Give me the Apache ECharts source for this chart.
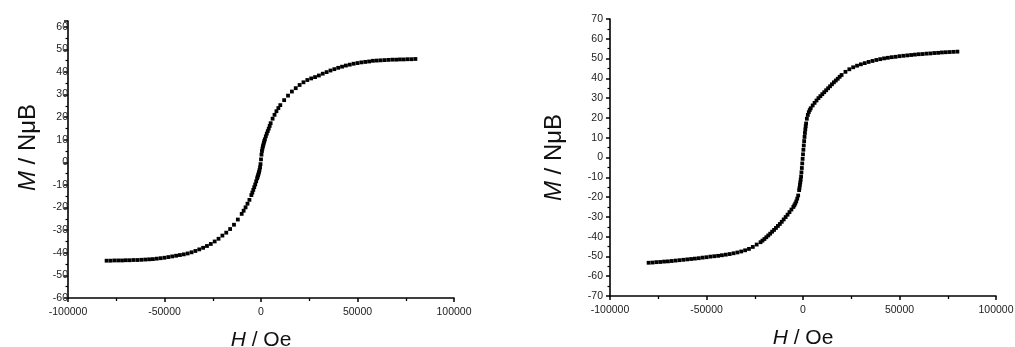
<!DOCTYPE html>
<html>
<head>
<meta charset="utf-8">
<script src="https://cdn.jsdelivr.net/npm/echarts@6/dist/echarts.min.js"></script>
<style>
  html, body { margin: 0; padding: 0; background: #fff; }
  #chart { width: 1015px; height: 347px; }
</style>
</head>
<body>
<div id="chart"></div>
<script>
// Magnetisation curves M(H) for two samples, field in Oe, moment in N·μB.

// Sample A (left panel)
const fieldA = [
  -80000, -78000, -76000, -74000, -72000, -70000, -68000, -66000, -64000, -62000,
  -60000, -58000, -56000, -54000, -52000, -50000, -48000, -46000, -44000, -42000,
  -40000, -38000, -36000, -34000, -32000, -30000, -28000, -26000, -24000, -22000,
  -20000, -18000, -16000, -14000, -12000,
  -10000, -9000, -8000, -7000, -6000,
  -5000, -4500, -4000, -3500, -3000, -2500,
  -2000, -1750, -1500, -1250, -1000, -750, -500, -250, 0, 250, 500, 750,
  1000, 1250, 1500, 1750, 2000,
  2500, 3000, 3500, 4000, 4500, 5000,
  6000, 7000, 8000, 9000, 10000,
  12000, 14000, 16000, 18000, 20000, 22000, 24000, 26000, 28000, 30000,
  32000, 34000, 36000, 38000, 40000, 42000, 44000, 46000, 48000, 50000,
  52000, 54000, 56000, 58000, 60000, 62000, 64000, 66000, 68000, 70000,
  72000, 74000, 76000, 78000, 80000
];
const momentA = [
  -43.5, -43.5, -43.4, -43.4, -43.4, -43.3, -43.3, -43.2, -43.2, -43.1,
  -43.0, -42.9, -42.8, -42.6, -42.4, -42.2, -41.9, -41.6, -41.3, -41.0,
  -40.7, -40.3, -39.8, -39.2, -38.5, -37.8, -37.0, -36.1, -35.0, -33.8,
  -32.4, -31.1, -29.5, -27.6, -25.3,
  -22.8, -21.4, -19.9, -18.3, -16.6,
  -14.5, -13.4, -12.2, -11.0, -9.8, -8.4,
  -7.1, -6.4, -5.7, -5.0, -4.2, -3.3, -2.2, -0.8, 1.3, 3.4, 5.0, 6.1,
  7.1, 7.9, 8.7, 9.5, 10.2,
  11.5, 12.7, 13.8, 14.9, 16.1, 17.3,
  19.3, 21.0, 22.6, 24.0, 25.3,
  27.5, 29.5, 31.3, 32.8, 34.2, 35.4, 36.4, 37.1, 37.7, 38.4,
  39.2, 39.9, 40.6, 41.2, 41.8, 42.3, 42.8, 43.2, 43.6, 43.9,
  44.2, 44.4, 44.6, 44.9, 45.0, 45.1, 45.2, 45.3, 45.4, 45.4,
  45.5, 45.5, 45.6, 45.6, 45.7
];

// Sample B (right panel)
const fieldB = [
  -80000, -78000, -76000, -74000, -72000, -70000, -68000, -66000, -64000, -62000,
  -60000, -58000, -56000, -54000, -52000, -50000, -48000, -46000, -44000, -42000,
  -40000, -38000, -36000, -34000, -32000, -30000, -28000, -26000, -24000, -22000,
  -21000, -20000, -19000, -18000, -17000, -16000, -15000, -14000, -13000, -12000,
  -11000, -10000, -9000, -8000, -7000, -6000,
  -5000, -4500, -4000, -3500, -3000, -2500,
  -2000, -1800, -1600, -1400, -1200, -1000, -800, -600, -400, -200,
  0, 200, 400, 600, 800, 1000, 1200, 1400, 1600,
  2000, 2500, 3000, 3500, 4000,
  5000, 6000, 7000, 8000, 9000, 10000, 11000, 12000, 13000, 14000,
  15000, 16000, 17000, 18000, 19000, 20000,
  22000, 24000, 26000, 28000, 30000, 32000, 34000, 36000, 38000, 40000,
  42000, 44000, 46000, 48000, 50000, 52000, 54000, 56000, 58000, 60000,
  62000, 64000, 66000, 68000, 70000, 72000, 74000, 76000, 78000, 80000
];
const momentB = [
  -53.2, -53.1, -52.9, -52.8, -52.6, -52.5, -52.3, -52.1, -51.9, -51.7,
  -51.5, -51.3, -51.1, -50.9, -50.6, -50.4, -50.1, -49.9, -49.7, -49.4,
  -49.1, -48.8, -48.4, -48.0, -47.5, -46.9, -46.2, -45.2, -44.0, -42.8,
  -42.0, -41.2, -40.3, -39.4, -38.5, -37.5, -36.6, -35.6, -34.6, -33.6,
  -32.5, -31.3, -30.1, -28.9, -27.6, -26.3,
  -25.0, -24.2, -23.3, -22.2, -20.8, -19.2,
  -16.5, -15.3, -13.8, -12.6, -11.2, -9.6, -7.5, -5.3, -3.0, -0.7,
  1.6, 3.9, 6.1, 8.3, 10.4, 12.4, 14.2, 15.8, 17.2,
  19.6, 21.5, 22.9, 24.0, 24.9,
  26.3, 27.6, 28.8, 30.0, 31.0, 32.0, 33.0, 34.0, 35.0, 36.0,
  37.0, 38.0, 38.9, 39.8, 40.8, 41.7,
  43.3, 44.6, 45.6, 46.4, 47.1, 47.7, 48.3, 48.8, 49.3, 49.7,
  50.1, 50.4, 50.7, 50.9, 51.2, 51.4, 51.6, 51.8, 52.0, 52.2,
  52.3, 52.5, 52.6, 52.8, 52.9, 53.1, 53.2, 53.3, 53.4, 53.5
];

// Axis ranges and tick steps (left M axis runs a little past its top label)
const fieldRange = { min: -100000, max: 100000, step: 50000 };
const momentRangeA = { min: -60, max: 62.5, step: 10 };
const momentRangeB = { min: -70, max: 70, step: 10 };

const fieldTitle = '{i|H} / Oe';
const momentTitle = '{i|M} / NμB';

const FONT = 'Liberation Sans, Arial, sans-serif';
const INK = '#000';

function pairs(xs, ys) {
  return xs.map((x, i) => [x, ys[i]]);
}

function titleStyle(size, padding) {
  return {
    fontSize: size,
    fontFamily: FONT,
    color: '#111',
    padding: padding || 0,
    rich: { i: { fontStyle: 'italic', fontSize: size, fontFamily: FONT, color: '#111' } }
  };
}

// plain tick numbers; only multiples of the step get a label
function tickText(step) {
  return v => (Math.abs(v % step) < 1e-9 ? String(v) : '');
}

function fieldAxis(gridIndex, nameGap) {
  return {
    type: 'value',
    gridIndex,
    min: fieldRange.min,
    max: fieldRange.max,
    interval: fieldRange.step,
    axisLine: { onZero: false, lineStyle: { color: INK, width: 1.6 } },
    axisTick: { show: true, inside: false, length: 4, lineStyle: { color: INK, width: 1.5 } },
    minorTick: { show: true, splitNumber: 2, length: 3, lineStyle: { color: INK, width: 1.3 } },
    splitLine: { show: false },
    axisLabel: { color: '#222', fontSize: 10.5, fontFamily: FONT, margin: 9, formatter: tickText(fieldRange.step) },
    name: fieldTitle,
    nameLocation: 'middle',
    nameGap,
    nameTextStyle: titleStyle(21)
  };
}

function momentAxis(gridIndex, range, labelMargin, nameGap, namePad) {
  return {
    type: 'value',
    gridIndex,
    min: range.min,
    max: range.max,
    interval: range.step,
    axisLine: { onZero: false, lineStyle: { color: INK, width: 1.6 } },
    axisTick: { show: true, inside: false, length: 4, lineStyle: { color: INK, width: 1.5 } },
    minorTick: { show: true, splitNumber: 2, length: 2.5, lineStyle: { color: INK, width: 1.2 } },
    splitLine: { show: false },
    axisLabel: { color: '#222', fontSize: 10.5, fontFamily: FONT, margin: labelMargin, formatter: tickText(range.step) },
    name: momentTitle,
    nameLocation: 'middle',
    nameRotate: 90,
    nameGap,
    nameTextStyle: titleStyle(24, namePad)
  };
}

const markerSeries = (xi, data) => ({
  type: 'scatter',
  xAxisIndex: xi,
  yAxisIndex: xi,
  data,
  symbol: 'rect',
  symbolSize: 3.8,
  itemStyle: { color: INK, opacity: 1 },
  animation: false,
  silent: true
});

// fixed plot boxes: titles may sit right at the canvas edge
const gridBox = (left, top, width, height) => ({
  left, top, width, height,
  containLabel: false,
  outerBoundsMode: 'none'
});

const chart = echarts.init(document.getElementById('chart'), null, { renderer: 'canvas' });
chart.setOption({
  backgroundColor: '#fff',
  animation: false,
  grid: [
    gridBox(68, 21, 386, 277),
    gridBox(610, 19, 386, 277)
  ],
  xAxis: [fieldAxis(0, 32), fieldAxis(1, 32)],
  yAxis: [
    momentAxis(0, momentRangeA, 0, 28, [0, 0, 0, 24]),
    momentAxis(1, momentRangeB, 7, 44, 0)
  ],
  series: [
    markerSeries(0, pairs(fieldA, momentA)),
    markerSeries(1, pairs(fieldB, momentB))
  ]
});
</script>
</body>
</html>
